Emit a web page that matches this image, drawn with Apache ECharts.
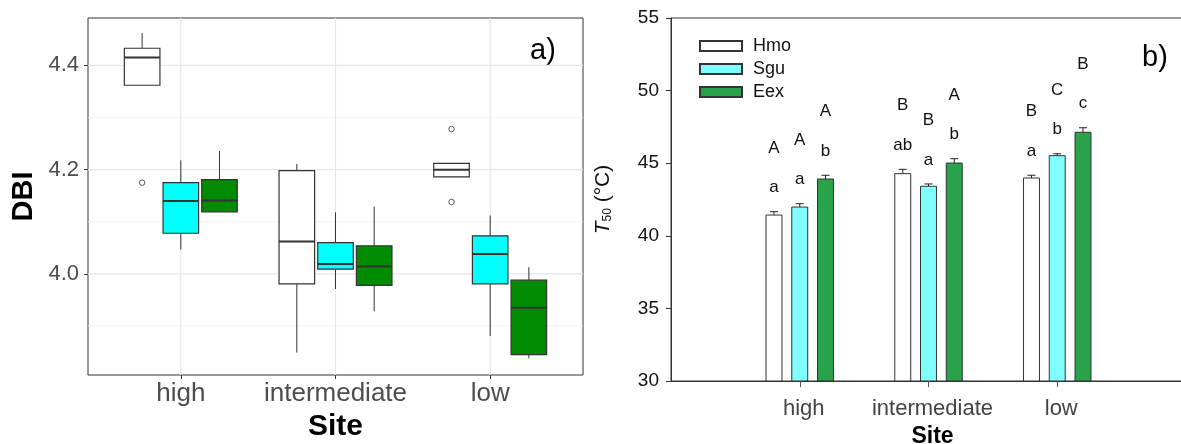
<!DOCTYPE html>
<html>
<head>
<meta charset="utf-8">
<script src="https://cdn.jsdelivr.net/npm/echarts@6/dist/echarts.min.js"></script>
<style>
  html, body { margin: 0; padding: 0; background: #fff; }
  #chart { width: 1181px; height: 444px; }
</style>
</head>
<body>
<div id="chart"></div>
<script>
// categories
const sites = ['high', 'intermediate', 'low'];
const species = ['Hmo', 'Sgu', 'Eex'];

// a) DBI boxplots, one row per site: [lower whisker, Q1, median, Q3, upper whisker]
const dbiHmo = [[4.362, 4.362, 4.415, 4.433, 4.462], [3.849, 3.981, 4.062, 4.198, 4.211], [4.186, 4.186, 4.200, 4.212, 4.212]];
const dbiSgu = [[4.047, 4.078, 4.140, 4.175, 4.218], [3.971, 4.009, 4.019, 4.060, 4.118], [3.881, 3.981, 4.038, 4.073, 4.112]];
const dbiEex = [[4.119, 4.119, 4.141, 4.181, 4.236], [3.928, 3.978, 4.014, 4.054, 4.129], [3.838, 3.845, 3.935, 3.988, 4.013]];
// outliers: [site index, species index, value]
const dbiOutliers = [[0, 0, 4.175], [2, 0, 4.278], [2, 0, 4.138]];
const dbiTicks = [4.0, 4.2, 4.4];
const dbiMinor = [3.9, 4.1, 4.3];

// b) T50 means and standard errors per site
const t50Hmo = [41.43, 44.28, 43.98];
const t50Sgu = [41.98, 43.41, 45.52];
const t50Eex = [43.91, 45.01, 47.13];
const seHmo = [0.23, 0.30, 0.19];
const seSgu = [0.23, 0.16, 0.13];
const seEex = [0.26, 0.30, 0.31];
// significance letters
const lowerHmo = ['a', 'ab', 'a'];
const lowerSgu = ['a', 'a', 'b'];
const lowerEex = ['b', 'b', 'c'];
const upperHmo = ['A', 'B', 'B'];
const upperSgu = ['A', 'B', 'C'];
const upperEex = ['A', 'A', 'B'];

const FONT = '"Liberation Sans", Arial, sans-serif';
const chart = echarts.init(document.getElementById('chart'));

const boxColors = ['#ffffff', '#00ffff', '#008b00'];
const barColors = ['#ffffff', '#80ffff', '#2aa24b'];
const dodgeBox = [-0.25, 0, 0.25];
const dodgeBar = [-0.2, 0, 0.2];

function boxItem(offset) {
  return function (params, api) {
    const x = api.value(0) + offset;
    const w = api.size([0.23, 0])[0];
    const lo = api.coord([x, api.value(1)]);
    const q1 = api.coord([x, api.value(2)]);
    const md = api.coord([x, api.value(3)]);
    const q3 = api.coord([x, api.value(4)]);
    const hi = api.coord([x, api.value(5)]);
    const line = { stroke: '#333', lineWidth: 1 };
    return {
      type: 'group',
      children: [
        { type: 'line', shape: { x1: hi[0], y1: hi[1], x2: q3[0], y2: q3[1] }, style: line },
        { type: 'line', shape: { x1: q1[0], y1: q1[1], x2: lo[0], y2: lo[1] }, style: line },
        { type: 'rect', shape: { x: q3[0] - w / 2, y: q3[1], width: w, height: q1[1] - q3[1] },
          style: { fill: api.visual('color'), stroke: '#333', lineWidth: 1.2 } },
        { type: 'line', shape: { x1: md[0] - w / 2, y1: md[1], x2: md[0] + w / 2, y2: md[1] },
          style: { stroke: '#333', lineWidth: 2 } }
      ]
    };
  };
}

function barItem(offset, lowers, uppers) {
  return function (params, api) {
    const i = params.dataIndex;
    const x = api.value(0) + offset;
    const mean = api.value(1);
    const w = api.size([0.124, 0])[0];
    const base = api.coord([x, 30]);
    const top = api.coord([x, mean]);
    const cap = api.coord([x, mean + api.value(2)]);
    const txt = { fill: '#111', fontSize: 17, fontFamily: FONT, align: 'center', verticalAlign: 'middle' };
    return {
      type: 'group',
      children: [
        { type: 'line', shape: { x1: top[0], y1: top[1], x2: cap[0], y2: cap[1] }, style: { stroke: '#222', lineWidth: 1 } },
        { type: 'line', shape: { x1: cap[0] - 4, y1: cap[1], x2: cap[0] + 4, y2: cap[1] }, style: { stroke: '#222', lineWidth: 1 } },
        { type: 'rect', shape: { x: top[0] - w / 2, y: top[1], width: w, height: base[1] - top[1] },
          style: { fill: api.visual('color'), stroke: '#333', lineWidth: 1 } },
        { type: 'text', style: Object.assign({ text: lowers[i], x: cap[0], y: cap[1] - 24 }, txt) },
        { type: 'text', style: Object.assign({ text: uppers[i], x: cap[0], y: cap[1] - 63.5 }, txt) }
      ]
    };
  };
}

function gridItem(params, api) {
  const cs = params.coordSys;
  const major = api.value(2) === 1;
  const style = { stroke: major ? '#e6e6e6' : '#f0f0f0', lineWidth: major ? 1.2 : 0.8 };
  if (api.value(0) === 0) {
    const y = api.coord([1, api.value(1)])[1];
    return { type: 'line', shape: { x1: cs.x, y1: y, x2: cs.x + cs.width, y2: y }, style };
  }
  const x = api.coord([api.value(1), 4])[0];
  return { type: 'line', shape: { x1: x, y1: cs.y, x2: x, y2: cs.y + cs.height }, style };
}

const gridLineData = []
  .concat(dbiTicks.map(v => [0, v, 1]))
  .concat(dbiMinor.map(v => [0, v, 0]))
  .concat(sites.map((s, i) => [1, i + 1, 1]));

const dbiSets = [dbiHmo, dbiSgu, dbiEex];
const t50Sets = [t50Hmo, t50Sgu, t50Eex];
const seSets = [seHmo, seSgu, seEex];
const lowerSets = [lowerHmo, lowerSgu, lowerEex];
const upperSets = [upperHmo, upperSgu, upperEex];

const series = [
  { type: 'custom', name: 'grid', xAxisIndex: 0, yAxisIndex: 0, z: 1, silent: true,
    renderItem: gridItem, data: gridLineData }
];
species.forEach((sp, g) => {
  series.push({
    type: 'custom', name: 'DBI ' + sp, xAxisIndex: 0, yAxisIndex: 0, z: 3,
    itemStyle: { color: boxColors[g] },
    renderItem: boxItem(dodgeBox[g]),
    encode: { x: 0, y: [1, 2, 3, 4, 5] },
    data: dbiSets[g].map((r, i) => [i + 1].concat(r))
  });
});
series.push({
  type: 'scatter', name: 'DBI outliers', xAxisIndex: 0, yAxisIndex: 0, z: 4,
  symbol: 'circle', symbolSize: 5.5,
  itemStyle: { color: '#fff', borderColor: '#333', borderWidth: 1 },
  data: dbiOutliers.map(o => [o[0] + 1 + dodgeBox[o[1]], o[2]])
});
species.forEach((sp, g) => {
  series.push({
    type: 'custom', name: sp, xAxisIndex: 1, yAxisIndex: 1, z: 3,
    itemStyle: { color: barColors[g], borderColor: '#333', borderWidth: 1 },
    renderItem: barItem(dodgeBar[g], lowerSets[g], upperSets[g]),
    encode: { x: 0, y: 1 },
    data: t50Sets[g].map((v, i) => [i + 1, v, seSets[g][i]])
  });
});

const option = {
  animation: false,
  backgroundColor: '#fff',
  textStyle: { fontFamily: FONT },
  grid: [
    { left: 88, right: 598, top: 18, bottom: 69, show: true, borderColor: '#333', borderWidth: 1,
      backgroundColor: '#fff', containLabel: false, outerBoundsMode: 'none' },
    { left: 671, right: -5, top: 18, bottom: 63, show: true, borderColor: '#333', borderWidth: 1,
      containLabel: false, outerBoundsMode: 'none' }
  ],
  xAxis: [
    {
      type: 'value', gridIndex: 0, min: 0.4, max: 3.6,
      name: 'Site', nameLocation: 'middle', nameGap: 35,
      nameTextStyle: { fontSize: 30, fontWeight: 'bold', color: '#000', fontFamily: FONT },
      axisLine: { show: false },
      splitLine: { show: false },
      axisTick: { show: true, customValues: [1, 2, 3], length: 4, lineStyle: { color: '#333' } },
      axisLabel: { customValues: [1, 2, 3], formatter: v => sites[Math.round(v) - 1], fontSize: 26, color: '#4d4d4d', margin: 6, fontFamily: FONT }
    },
    {
      type: 'value', gridIndex: 1, min: 0, max: 4,
      name: 'Site', nameLocation: 'middle', nameGap: 42,
      nameTextStyle: { fontSize: 23, fontWeight: 'bold', color: '#000', fontFamily: FONT, padding: [0, 0, 0, 8] },
      axisLine: { show: true, lineStyle: { color: '#333' } },
      splitLine: { show: false },
      axisTick: { show: true, customValues: [1, 2, 3], length: 6, lineStyle: { color: '#555' } },
      axisLabel: { customValues: [1, 2, 3], formatter: v => sites[Math.round(v) - 1], fontSize: 22, color: '#444', margin: 17, fontFamily: FONT, padding: [0, 0, 0, 8] }
    }
  ],
  yAxis: [
    {
      type: 'value', gridIndex: 0, min: 3.806, max: 4.491,
      name: 'DBI', nameLocation: 'middle', nameGap: 50,
      nameTextStyle: { fontSize: 29, fontWeight: 'bold', color: '#000', fontFamily: FONT },
      axisLine: { show: false },
      splitLine: { show: false },
      axisTick: { show: true, customValues: dbiTicks, length: 4, lineStyle: { color: '#333' } },
      axisLabel: { customValues: dbiTicks, formatter: v => v.toFixed(1), fontSize: 22, color: '#4d4d4d', margin: 9, fontFamily: FONT }
    },
    {
      type: 'value', gridIndex: 1, min: 30, max: 55, interval: 5,
      name: '{t|T}{s|50}{n| (°C)}', nameLocation: 'middle', nameGap: 57,
      nameTextStyle: {
        fontFamily: FONT, color: '#111',
        rich: {
          t: { fontSize: 21, fontStyle: 'italic', fontFamily: FONT, color: '#111' },
          s: { fontSize: 12, fontFamily: FONT, color: '#111', verticalAlign: 'bottom' },
          n: { fontSize: 21, fontFamily: FONT, color: '#111' }
        }
      },
      axisLine: { show: true, lineStyle: { color: '#333' } },
      splitLine: { show: false },
      axisTick: { show: true, length: 5, lineStyle: { color: '#333' } },
      axisLabel: { fontSize: 19, color: '#111', margin: 12, fontFamily: FONT }
    }
  ],
  legend: {
    data: species,
    orient: 'vertical',
    left: 699, top: 37, padding: 0,
    itemWidth: 42, itemHeight: 10, itemGap: 5,
    icon: 'rect',
    selectedMode: false,
    textStyle: { fontSize: 18, color: '#111', fontFamily: FONT, padding: [0, 0, 0, 6] }
  },
  graphic: [
    { type: 'text', left: 530, top: 36, style: { text: 'a)', fontSize: 29, fill: '#000', fontFamily: FONT } },
    { type: 'text', left: 1142, top: 43, style: { text: 'b)', fontSize: 29, fill: '#000', fontFamily: FONT } }
  ],
  series
};

chart.setOption(option);
window.addEventListener('resize', () => chart.resize());
</script>
</body>
</html>
